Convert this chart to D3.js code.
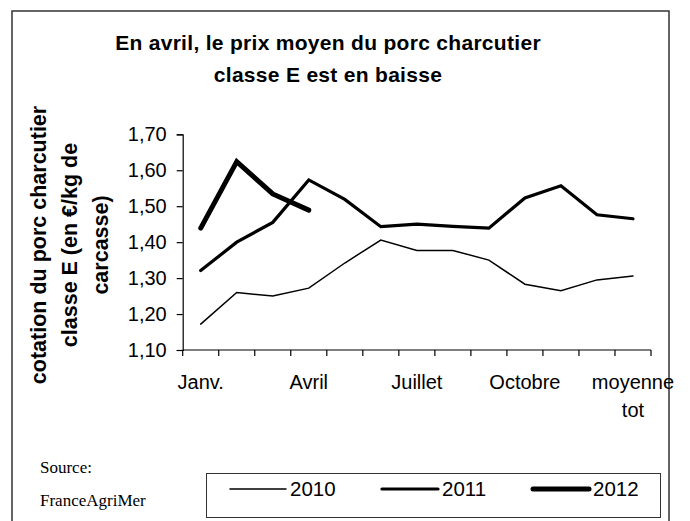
<!DOCTYPE html>
<html>
<head>
<meta charset="utf-8">
<script src="https://cdn.jsdelivr.net/npm/d3@7"></script>
<style>
  body { margin: 0; background: #fff; }
  svg { display: block; }
</style>
</head>
<body>
<svg id="chart" width="690" height="521"></svg>
<script>
// data
var months = ["Janv.", "Févr.", "Mars", "Avril", "Mai", "Juin", "Juillet", "Août", "Sept.", "Octobre", "Nov.", "Déc.", "moyenne tot"];
var years = ["2010", "2011", "2012"];
var values2010 = [1.172, 1.260, 1.250, 1.272, 1.342, 1.406, 1.377, 1.377, 1.350, 1.283, 1.265, 1.295, 1.306];
var values2011 = [1.321, 1.400, 1.455, 1.573, 1.519, 1.443, 1.450, 1.444, 1.439, 1.523, 1.557, 1.476, 1.465];
var values2012 = [1.439, 1.624, 1.534, 1.489];
var yTicks = [1.10, 1.20, 1.30, 1.40, 1.50, 1.60, 1.70];
var strokeWidths = [1.5, 3.2, 5];

var FONT = "Liberation Sans, Arial, sans-serif";
var svg = d3.select("#chart");

// outer frame
svg.append("rect")
    .attr("x", 12).attr("y", 11)
    .attr("width", 657).attr("height", 530)
    .attr("fill", "none")
    .attr("stroke", "#333")
    .attr("stroke-width", 1.5);

// title
var title = svg.append("text")
    .attr("text-anchor", "middle")
    .attr("font-family", FONT)
    .attr("font-weight", "bold")
    .attr("font-size", 21)
    .attr("letter-spacing", 0.3)
    .attr("fill", "#000");
title.append("tspan").attr("x", 328).attr("y", 50).text("En avril, le prix moyen du porc charcutier");
title.append("tspan").attr("x", 328).attr("y", 82).text("classe E est en baisse");

var plotLeft = 182.7, plotRight = 651, plotTop = 134.3, plotBottom = 350;

var x = d3.scaleBand().domain(months).range([plotLeft, plotRight]);
var y = d3.scaleLinear().domain([1.10, 1.70]).range([plotBottom, plotTop]);

// y axis
var yAxis = d3.axisLeft(y)
    .tickValues(yTicks)
    .tickSize(6)
    .tickFormat(function (d) { return d3.format(".2f")(d).replace(".", ","); });

var gy = svg.append("g")
    .attr("transform", "translate(" + plotLeft + ",0)")
    .call(yAxis);
gy.select(".domain").attr("stroke", "#000").attr("stroke-width", 1.2);
gy.selectAll(".tick line").attr("stroke", "#000").attr("stroke-width", 1.2);
gy.selectAll(".tick text")
    .attr("x", -16)
    .attr("font-family", FONT)
    .attr("font-size", 20)
    .attr("fill", "#000");

// x axis: ticks on category boundaries, label every 3rd
var gx = svg.append("g")
    .attr("transform", "translate(0," + plotBottom + ")");
gx.append("line")
    .attr("x1", plotLeft).attr("x2", plotRight)
    .attr("stroke", "#000").attr("stroke-width", 1.2);
var boundaries = months.map(function (m) { return x(m); }).concat([plotRight]);
gx.selectAll("line.tick")
    .data(boundaries)
    .enter().append("line")
    .attr("class", "tick")
    .attr("x1", function (d) { return d; })
    .attr("x2", function (d) { return d; })
    .attr("y1", 0).attr("y2", 6)
    .attr("stroke", "#000").attr("stroke-width", 1.2);

var labels = gx.selectAll("text")
    .data(months.filter(function (m, i) { return i % 3 === 0; }))
    .enter().append("text")
    .attr("text-anchor", "middle")
    .attr("font-family", FONT)
    .attr("font-size", 20)
    .attr("fill", "#000");
labels.each(function (d) {
    var t = d3.select(this);
    var cx = x(d) + x.bandwidth() / 2;
    var parts = d === "moyenne tot" ? ["moyenne", "tot"] : [d];
    parts.forEach(function (p, k) {
        t.append("tspan").attr("x", cx).attr("y", 39 + k * 28).text(p);
    });
});

// y axis title
var ytitle = svg.append("text")
    .attr("transform", "translate(0,245) rotate(-90)")
    .attr("text-anchor", "middle")
    .attr("font-family", FONT)
    .attr("font-weight", "bold")
    .attr("font-size", 21.5)
    .attr("fill", "#000");
["cotation du porc charcutier", "classe E (en €/kg de", "carcasse)"].forEach(function (s, k) {
    ytitle.append("tspan").attr("x", 0).attr("y", 46 + k * 31).text(s);
});

// lines
var line = d3.line()
    .x(function (d, i) { return x(months[i]) + x.bandwidth() / 2; })
    .y(function (d) { return y(d); });

var series = [values2010, values2011, values2012];
svg.selectAll("path.series")
    .data(series)
    .enter().append("path")
    .attr("class", "series")
    .attr("d", line)
    .attr("fill", "none")
    .attr("stroke", "#000")
    .attr("stroke-width", function (d, i) { return strokeWidths[i]; })
    .attr("stroke-linejoin", "miter")
    .attr("stroke-linecap", "round");

// source
var src = svg.append("text")
    .attr("font-family", "Liberation Serif, Times New Roman, serif")
    .attr("font-size", 17)
    .attr("fill", "#000");
src.append("tspan").attr("x", 40).attr("y", 473).text("Source:");
src.append("tspan").attr("x", 40).attr("y", 506).text("FranceAgriMer");

// legend
svg.append("rect")
    .attr("x", 206.5).attr("y", 473.5)
    .attr("width", 454).attr("height", 44)
    .attr("fill", "#fff")
    .attr("stroke", "#333")
    .attr("stroke-width", 1);

var legendX = [230, 382, 533];
var leg = svg.selectAll("g.legend")
    .data(years)
    .enter().append("g")
    .attr("class", "legend")
    .attr("transform", function (d, i) { return "translate(" + legendX[i] + ",489)"; });
leg.append("line")
    .attr("x1", 0).attr("x2", 56)
    .attr("stroke", "#000")
    .attr("stroke-width", function (d, i) { return strokeWidths[i]; })
    .attr("stroke-linecap", "round");
leg.append("text")
    .attr("x", 60).attr("y", 7)
    .attr("font-family", FONT)
    .attr("font-size", 20.5)
    .attr("fill", "#000")
    .text(function (d) { return d; });
</script>
</body>
</html>
